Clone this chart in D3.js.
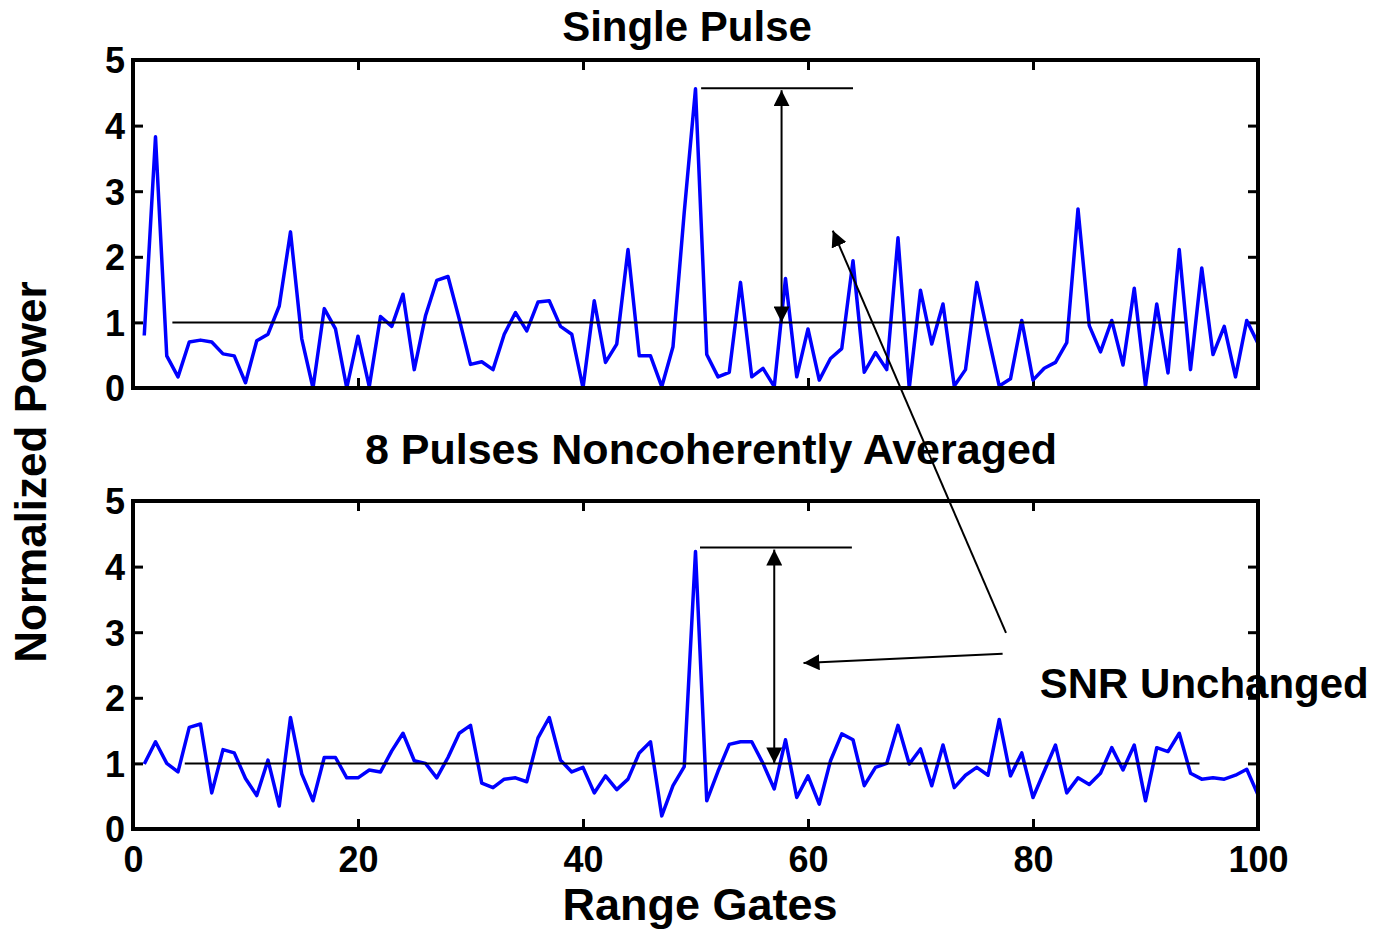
<!DOCTYPE html>
<html>
<head>
<meta charset="utf-8">
<script src="https://cdn.jsdelivr.net/npm/d3@7"></script>
<style>
  body { margin: 0; background: #fff; }
  text { font-family: "Liberation Sans", Arial, Helvetica, sans-serif; font-weight: bold; fill: #000; }
</style>
</head>
<body>
<div id="chart"></div>
<script>
// range gates 1..100
const gates = d3.range(1, 101);

// single pulse, normalized power
const singlePulse = [
  0.80, 3.83, 0.49, 0.17, 0.70, 0.73, 0.70, 0.52, 0.49, 0.08,
  0.72, 0.82, 1.25, 2.38, 0.75, 0.00, 1.21, 0.90, 0.00, 0.79,
  0.02, 1.09, 0.94, 1.43, 0.28, 1.10, 1.64, 1.70, 1.05, 0.36,
  0.40, 0.28, 0.82, 1.15, 0.87, 1.31, 1.33, 0.94, 0.82, 0.00,
  1.33, 0.39, 0.67, 2.11, 0.49, 0.49, 0.02, 0.63, 2.68, 4.56,
  0.51, 0.17, 0.24, 1.61, 0.17, 0.30, 0.02, 1.67, 0.17, 0.90,
  0.12, 0.45, 0.60, 1.94, 0.24, 0.54, 0.28, 2.29, 0.00, 1.49,
  0.67, 1.28, 0.03, 0.28, 1.61, 0.81, 0.03, 0.14, 1.03, 0.12,
  0.30, 0.39, 0.69, 2.73, 0.95, 0.55, 1.03, 0.35, 1.52, 0.03,
  1.28, 0.23, 2.11, 0.28, 1.83, 0.51, 0.94, 0.17, 1.03, 0.68
];

// 8 pulses noncoherently averaged
const averaged = [
  0.99, 1.33, 1.00, 0.87, 1.55, 1.60, 0.55, 1.21, 1.16, 0.77,
  0.51, 1.05, 0.35, 1.70, 0.84, 0.43, 1.09, 1.09, 0.78, 0.78,
  0.90, 0.87, 1.19, 1.46, 1.04, 1.00, 0.78, 1.09, 1.46, 1.58,
  0.70, 0.63, 0.76, 0.78, 0.72, 1.39, 1.70, 1.05, 0.87, 0.94,
  0.55, 0.81, 0.60, 0.76, 1.16, 1.33, 0.20, 0.66, 0.95, 4.23,
  0.43, 0.88, 1.29, 1.33, 1.33, 1.00, 0.61, 1.36, 0.48, 0.81,
  0.38, 1.04, 1.45, 1.36, 0.66, 0.94, 1.00, 1.58, 0.99, 1.22,
  0.66, 1.28, 0.63, 0.82, 0.94, 0.82, 1.67, 0.81, 1.16, 0.48,
  0.88, 1.28, 0.55, 0.78, 0.68, 0.85, 1.24, 0.90, 1.28, 0.43,
  1.24, 1.18, 1.46, 0.85, 0.76, 0.78, 0.76, 0.82, 0.91, 0.52
];

const xTicks = [0, 20, 40, 60, 80, 100];
const yTicks = [0, 1, 2, 3, 4, 5];

// annotation values (data units)
const meanLevel = 1;
const topMeanSpan = [3.5, 93.5];
const botMeanSpan = [4.6, 94.8];
const topPeakSpan = [50.5, 64];
const botPeakSpan = [50.4, 63.9];
const topPeakLevel = 4.57;
const botPeakLevel = 4.29;
const topArrowGate = 57.65;
const botArrowGate = 57.0;

const width = 1381, height = 930;

const svg = d3.select("#chart").append("svg")
  .attr("width", width)
  .attr("height", height);

const defs = svg.append("defs");
defs.append("marker")
  .attr("id", "head")
  .attr("markerUnits", "userSpaceOnUse")
  .attr("viewBox", "0 0 16 16")
  .attr("refX", 16).attr("refY", 8)
  .attr("markerWidth", 16).attr("markerHeight", 16)
  .attr("orient", "auto-start-reverse")
  .append("path")
  .attr("d", "M0,0 L16,8 L0,16 Z")
  .attr("fill", "#000");

const x = d3.scaleLinear().domain([0, 100]).range([133, 1258]);
const yTop = d3.scaleLinear().domain([0, 5]).range([388, 60]);
const yBot = d3.scaleLinear().domain([0, 5]).range([829, 501]);

function drawPanel(y, values, showXLabels) {
  const g = svg.append("g");

  // ticks on all four sides, pointing in
  const left = g.append("g").attr("transform", `translate(${x(0)},0)`)
    .call(d3.axisLeft(y).tickValues(yTicks).tickSizeInner(-10).tickSizeOuter(0).tickPadding(8).tickFormat(d3.format("d")));
  const right = g.append("g").attr("transform", `translate(${x(100)},0)`)
    .call(d3.axisRight(y).tickValues(yTicks).tickSizeInner(-10).tickSizeOuter(0).tickFormat(""));
  const top = g.append("g").attr("transform", `translate(0,${y(5)})`)
    .call(d3.axisTop(x).tickValues(xTicks).tickSizeInner(-10).tickSizeOuter(0).tickFormat(""));
  const bottom = g.append("g").attr("transform", `translate(0,${y(0)})`)
    .call(d3.axisBottom(x).tickValues(xTicks).tickSizeInner(-10).tickSizeOuter(0).tickPadding(17)
      .tickFormat(showXLabels ? d3.format("d") : ""));

  [left, right, top, bottom].forEach(a => {
    a.select(".domain").remove();
    a.selectAll(".tick line").attr("stroke", "#000").attr("stroke-width", 3);
    a.selectAll(".tick text")
      .attr("font-size", 36)
      .attr("font-family", null)
      .attr("fill", "#000");
  });
  left.selectAll(".tick text").attr("dy", "0.36em");
  bottom.selectAll(".tick text").attr("dy", "0.71em");

  const line = d3.line().x((d, i) => x(gates[i])).y(d => y(d));
  g.append("path")
    .datum(values)
    .attr("d", line)
    .attr("fill", "none")
    .attr("stroke", "#0000ff")
    .attr("stroke-width", 3.5)
    .attr("stroke-linejoin", "round");

  // frame
  g.append("rect")
    .attr("x", x(0)).attr("y", y(5))
    .attr("width", x(100) - x(0)).attr("height", y(0) - y(5))
    .attr("fill", "none")
    .attr("stroke", "#000")
    .attr("stroke-width", 4);
  return g;
}

function drawMarks(g, y, span, peakSpan, peakLevel, arrowGate) {
  g.append("line")
    .attr("x1", x(span[0])).attr("x2", x(span[1]))
    .attr("y1", y(meanLevel)).attr("y2", y(meanLevel))
    .attr("stroke", "#000").attr("stroke-width", 2);
  g.append("line")
    .attr("x1", x(peakSpan[0])).attr("x2", x(peakSpan[1]))
    .attr("y1", y(peakLevel)).attr("y2", y(peakLevel))
    .attr("stroke", "#000").attr("stroke-width", 2);
  g.append("line")
    .attr("x1", x(arrowGate)).attr("x2", x(arrowGate))
    .attr("y1", y(meanLevel)).attr("y2", y(peakLevel) + 2)
    .attr("stroke", "#000").attr("stroke-width", 2)
    .attr("marker-start", "url(#head)")
    .attr("marker-end", "url(#head)");
}

const gTop = drawPanel(yTop, singlePulse, false);
const gBot = drawPanel(yBot, averaged, true);
drawMarks(gTop, yTop, topMeanSpan, topPeakSpan, topPeakLevel, topArrowGate);
drawMarks(gBot, yBot, botMeanSpan, botPeakSpan, botPeakLevel, botArrowGate);

// pointer arrows from the "SNR Unchanged" note
const pointers = [
  { from: [77.6, 2.99, yBot], to: [62.2, 2.40, yTop] },
  { from: [77.3, 2.67, yBot], to: [59.6, 2.53, yBot] }
];
svg.append("g").selectAll("line")
  .data(pointers)
  .join("line")
  .attr("x1", d => x(d.from[0])).attr("y1", d => d.from[2](d.from[1]))
  .attr("x2", d => x(d.to[0])).attr("y2", d => d.to[2](d.to[1]))
  .attr("stroke", "#000").attr("stroke-width", 2)
  .attr("marker-end", "url(#head)");

// texts
svg.append("text")
  .attr("x", 687).attr("y", 41)
  .attr("text-anchor", "middle")
  .attr("font-size", 42)
  .text("Single Pulse");

svg.append("text")
  .attr("x", 711).attr("y", 464)
  .attr("text-anchor", "middle")
  .attr("font-size", 43)
  .text("8 Pulses Noncoherently Averaged");

svg.append("text")
  .attr("x", x(80.6)).attr("y", yBot(2.0))
  .attr("font-size", 42)
  .text("SNR Unchanged");

svg.append("text")
  .attr("x", 700).attr("y", 920)
  .attr("text-anchor", "middle")
  .attr("font-size", 45)
  .text("Range Gates");

svg.append("text")
  .attr("transform", "translate(46,472) rotate(-90)")
  .attr("text-anchor", "middle")
  .attr("font-size", 44)
  .text("Normalized Power");
</script>
</body>
</html>
